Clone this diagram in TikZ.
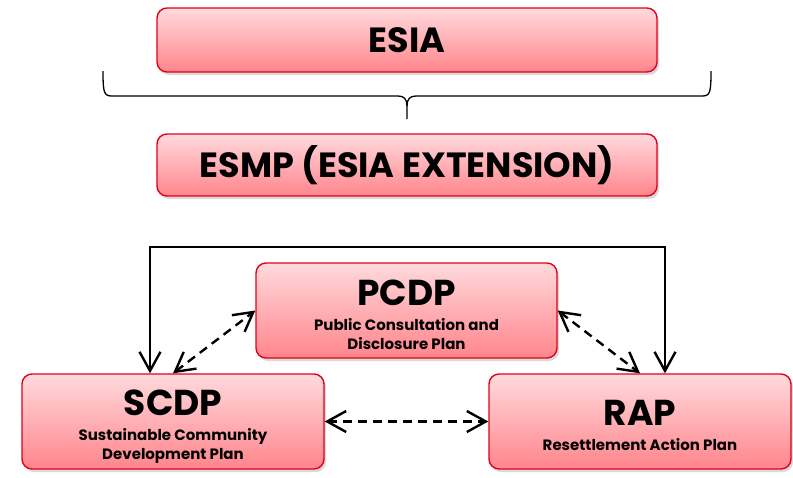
\documentclass[tikz,border=0pt]{standalone}
\usepackage{fontspec}
\setmainfont{Poppins}
\usepackage{tikz}
\usetikzlibrary{arrows.meta,shadows}
\usepackage{xcolor}

\definecolor{boxtop}{HTML}{FFDADD}
\definecolor{boxbot}{HTML}{FF858C}
\definecolor{boxline}{HTML}{E2001A}

\begin{document}
\begin{tikzpicture}[x=1pt,y=-1pt,
	>={Straight Barb[length=19pt,width=21pt]},
	planbox/.style={
  		draw=boxline,
  		line width=1.4pt,
  		rounded corners=10pt,
  		top color=boxtop,
  		bottom color=boxbot,
  		drop shadow={shadow xshift=2pt,shadow yshift=-3pt,opacity=0.3},
  		inner sep=0pt
  	},
	plantext/.style={
  		align=center,
  		inner sep=0pt,
  		font=\bfseries\fontsize{15}{19}\selectfont
  	},
	link/.style={<->,line width=2.4pt},
	dashlink/.style={<->,line width=2.4pt,dash pattern=on 9pt off 6pt}]

	\useasboundingbox (0,0) rectangle (793,477);

	% top part
	\node[planbox,minimum width=500pt,minimum height=64pt,font=\bfseries\fontsize{35}{38}\selectfont] (esia) at (407,40) {ESIA};
	\node[planbox,minimum width=500pt,minimum height=62pt,font=\bfseries\fontsize{35}{38}\selectfont] (esmp) at (407,165) {ESMP (ESIA EXTENSION)};

	\draw[line width=1.3pt] (103,71) .. controls (103,93) and (104,96) .. (112,96) -- (398,96) .. controls (404,96) and (407,99) .. (407,106) -- (407,119);
	\draw[line width=1.3pt] (711,71) .. controls (711,93) and (710,96) .. (702,96) -- (416,96) .. controls (410,96) and (407,99) .. (407,106);

	% the three plans
	\node[planbox,minimum width=301pt,minimum height=95pt] (pcdp) at (406.5,310.5) {};
	\node[planbox,minimum width=302pt,minimum height=95pt] (scdp) at (173,421.5) {};
	\node[planbox,minimum width=302pt,minimum height=95pt] (rap) at (640,421.5) {};

	\node[plantext] (pcdp-text) at ([yshift=-4pt]pcdp.center)
		{{\fontsize{36}{36}\selectfont PCDP}\\[6pt]Public Consultation and\\Disclosure Plan};
	\node[plantext] (scdp-text) at ([yshift=-5pt]scdp.center)
		{{\fontsize{36}{36}\selectfont SCDP}\\[6pt]Sustainable Community\\Development Plan};
	\node[plantext] (rap-text) at ([yshift=-4pt]rap.center)
		{{\fontsize{36}{36}\selectfont RAP}\\[6pt]Resettlement Action Plan};

	\coordinate (loopL) at (150,247);
	\coordinate (loopR) at (665,247);
	\draw[link] (scdp.north -| loopL) -- (loopL) -- (loopR) -- (rap.north -| loopR);

	\draw[dashlink] (scdp.north) -- (pcdp.west);
	\draw[dashlink] (pcdp.east) -- (rap.north);
	\draw[dashlink] (scdp.east) -- (rap.west);
\end{tikzpicture}
\end{document}
